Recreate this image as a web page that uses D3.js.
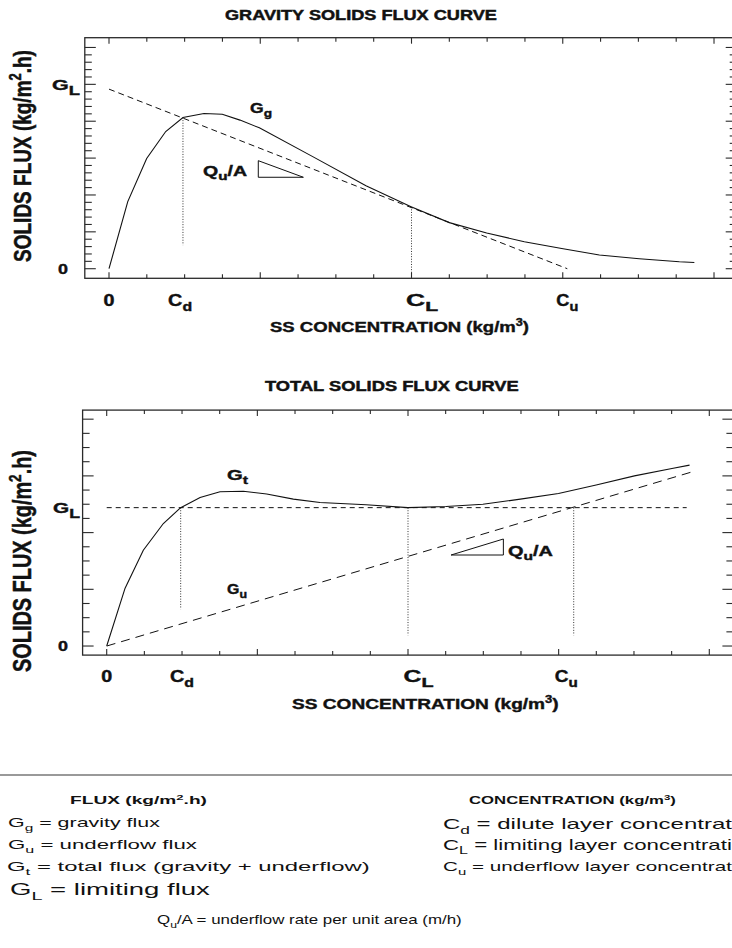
<!DOCTYPE html>
<html><head><meta charset="utf-8">
<script src="https://cdn.jsdelivr.net/npm/d3@7"></script>
<style>
html,body{margin:0;padding:0;background:#fff;overflow:hidden}
svg{display:block;background:#fff}
text{font-family:"Liberation Sans",Arial,Helvetica,sans-serif;fill:#111}
</style></head>
<body><svg id="chart" width="732" height="948"></svg>
<script>
// ---------------- DATA ----------------
// Top panel: gravity solids flux curve (conc in major-tick units, flux in major-tick units)
const gravityConc = [0, 0.124, 0.249, 0.375, 0.489, 0.628, 0.749, 0.866, 0.994, 1.347, 1.699, 1.997, 2.25, 2.497, 2.746, 2.993, 3.242, 3.506, 3.771, 3.87];
const gravityFlux = [0, 1.82, 2.99, 3.72, 4.10, 4.21, 4.19, 4.03, 3.82, 3.04, 2.25, 1.68, 1.25, 0.97, 0.73, 0.55, 0.37, 0.27, 0.19, 0.17];
const tangentConc = [0, 3.03];
const tangentFlux = [4.87, 0];
const topDropConc = [0.489, 2.0];
const topDropFrom = [4.10, 1.68];
const topDropTo = [0.64, -0.26];
const topTriConc = [0.987, 0.987, 1.285];
const topTriFlux = [2.93, 2.48, 2.48];
const topXLabelVals = [0, 0.47, 2.07, 3.03];
const topXLabels = ["0", "C|d", "C|L", "C|u"];
const topYLabelVals = [0, 5];
const topYLabels = ["0", "G|L"];

// Bottom panel: total solids flux curve
const totalConc = [0, 0.122, 0.243, 0.376, 0.491, 0.62, 0.752, 0.907, 1.062, 1.239, 1.416, 1.722, 1.999, 2.253, 2.497, 2.746, 2.999, 3.249, 3.503, 3.752, 3.869];
const totalFlux = [0, 1.02, 1.69, 2.16, 2.44, 2.62, 2.72, 2.73, 2.68, 2.59, 2.53, 2.49, 2.44, 2.46, 2.50, 2.59, 2.69, 2.84, 3.00, 3.13, 3.19];
const underflowConc = [0, 3.91];
const underflowFlux = [0, 3.09];
const limitingConc = [0, 3.85];
const limitingFlux = 2.44;
const botDropConc = [0.491, 2.0, 3.1];
const botDropTo = [0.65, 0.19, 0.19];
const botTriConc = [2.286, 2.633, 2.633];
const botTriFlux = [1.605, 1.605, 1.887];
const botXLabelVals = [0, 0.5, 2.07, 3.05];
const botXLabels = ["0", "C|d", "C|L", "C|u"];
const botYLabelVals = [0, 2.44];
const botYLabels = ["0", "G|L"];

// ---------------- helpers ----------------
const svg = d3.select("#chart");
svg.append("rect").attr("width", 732).attr("height", 948).attr("fill", "#fff");

// parts: [text, kind] kind: n, sub, sup, x (extra appended after fitting)
function rich(parent, parts, o) {
  const t = parent.append("text")
    .attr("font-size", o.size)
    .attr("font-weight", o.bold ? "bold" : "normal")
    .attr("text-anchor", o.rotate ? "middle" : "start");
  if (o.stroke) t.style("stroke", "#111").style("stroke-width", o.stroke);
  let shift = 0;
  const add = ([s, k]) => {
    const ts = t.append("tspan").text(s);
    let target = 0;
    if (k === "sub") { target = (o.subDy || 0.3) * o.size; ts.attr("font-size", (o.subScale || 72) + "%"); }
    else if (k === "sup") { target = -0.4 * o.size; ts.attr("font-size", "68%"); }
    ts.attr("dy", target - shift); shift = target;
  };
  parts.filter(p => p[1] !== "x").forEach(add);
  let w = t.node().getComputedTextLength();
  if (o.rotate) {
    const fs = o.size * o.length / w;
    t.attr("font-size", fs);
    t.selectAll("tspan").each(function () {
      const d = +this.getAttribute("dy"); this.setAttribute("dy", d * fs / o.size);
    });
    const sx = o.cap / (0.716 * fs);
    t.attr("transform", `translate(${o.x},${o.y}) scale(${sx},1) rotate(-90)`);
    return t;
  }
  const sx = o.width / w;
  const W = o.width;
  const x0 = o.anchor === "middle" ? o.x - W / 2 : o.anchor === "end" ? o.x - W : o.x;
  t.attr("transform", `translate(${x0},${o.y}) scale(${sx},1)`);
  parts.filter(p => p[1] === "x").forEach(p => add([p[0], "n"]));
  return t;
}
function parseLabel(s) {
  const [a, b] = s.split("|");
  return b ? [[a, "n"], [b, "sub"]] : [[a, "n"]];
}

function panel(cfg) {
  const g = svg.append("g");
  const x = d3.scaleLinear().domain(cfg.xDomain).range(cfg.xRange);
  const y = d3.scaleLinear().domain(cfg.yDomain).range(cfg.yRange);
  const [x0, x1] = cfg.xRange, [y0, y1] = cfg.yRange;
  const stroke = "#2a2a2a";
  g.append("rect").attr("x", x0).attr("y", y1).attr("width", x1 - x0).attr("height", y0 - y1)
    .attr("fill", "none").attr("stroke", stroke).attr("stroke-width", 1.3);
  const xt = d3.range(0, 4.0001, 0.25);
  xt.forEach(v => {
    const major = Math.abs(v - Math.round(v)) < 1e-6;
    const L = major ? 6 : 4;
    g.append("line").attr("x1", x(v)).attr("x2", x(v)).attr("y1", y0).attr("y2", y0 - L).attr("stroke", stroke).attr("stroke-width", 1.1);
    g.append("line").attr("x1", x(v)).attr("x2", x(v)).attr("y1", y1).attr("y2", y1 + L).attr("stroke", stroke).attr("stroke-width", 1.1);
  });
  const yt = d3.range(0, cfg.yMaxTick + 1e-6, cfg.yMinor);
  yt.forEach(v => {
    const major = Math.abs(v - Math.round(v)) < 1e-6;
    const L = major ? 11 : 7;
    g.append("line").attr("x1", x0).attr("x2", x0 + L).attr("y1", y(v)).attr("y2", y(v)).attr("stroke", stroke).attr("stroke-width", 1.1);
    g.append("line").attr("x1", x1).attr("x2", x1 - L).attr("y1", y(v)).attr("y2", y(v)).attr("stroke", stroke).attr("stroke-width", 1.1);
  });
  return { g, x, y };
}

const line = (x, y) => d3.line().x(d => x(d[0])).y(d => y(d[1]));

// ---------------- TOP PANEL ----------------
{
  const { g, x, y } = panel({ xDomain: [-0.16, 4.15], xRange: [84.8, 736.7], yDomain: [-0.26, 6.265], yRange: [278.3, 37.7], yMaxTick: 6, yMinor: 0.2 });
  topDropConc.forEach((c, i) => {
    g.append("path").attr("d", line(x, y)([[c, topDropFrom[i]], [c, topDropTo[i]]]))
      .attr("stroke", "#333").attr("stroke-width", 1).attr("stroke-dasharray", "1,1.6").attr("fill", "none");
  });
  g.append("path").attr("d", line(x, y)(tangentConc.map((c, i) => [c, tangentFlux[i]])))
    .attr("stroke", "#111").attr("stroke-width", 1).attr("stroke-dasharray", "6,4").attr("fill", "none");
  g.append("path").attr("d", line(x, y)(gravityConc.map((c, i) => [c, gravityFlux[i]])))
    .attr("stroke", "#111").attr("stroke-width", 1.1).attr("fill", "none");
  g.append("path").attr("d", line(x, y)(topTriConc.map((c, i) => [c, topTriFlux[i]])) + "Z")
    .attr("stroke", "#111").attr("stroke-width", 1).attr("fill", "none");

  rich(svg, [["GRAVITY SOLIDS FLUX CURVE", "n"]], { x: 225, y: 20, size: 14, bold: true, width: 272, stroke: 0.45 });
  rich(svg, [["SOLIDS FLUX (kg/m", "n"], ["2", "sup"], [".h)", "n"]], { x: 31, y: 156, size: 16, bold: true, rotate: true, length: 212, cap: 17.5, stroke: 0.4 });
  rich(svg, [["SS CONCENTRATION (kg/m", "n"], ["3", "sup"], [")", "n"]], { x: 270, y: 332, size: 15, bold: true, width: 259, stroke: 0.4 });
  topYLabels.forEach((l, i) => {
    const parts = parseLabel(l);
    if (parts.length === 1) rich(svg, parts, { x: 68, y: y(topYLabelVals[i]) + 5.5, size: 15, bold: true, width: 10, anchor: "end", stroke: 0.4 });
    else rich(svg, parts, { x: 80, y: y(topYLabelVals[i]) + 5.5, size: 15, bold: true, width: 28, anchor: "end", subScale: 85, subDy: 0.33, stroke: 0.4 });
  });
  const topXW = [11, 24, 32, 22], topXS = [16, 16, 17, 16];
  topXLabels.forEach((l, i) => {
    rich(svg, parseLabel(l), { x: x(topXLabelVals[i]), y: 306, size: topXS[i], bold: true, width: topXW[i], anchor: "middle", subScale: 80, subDy: 0.3, stroke: 0.4 });
  });
  rich(svg, [["G", "n"], ["g", "sub"]], { x: 250, y: 113, size: 14, bold: true, width: 22, subScale: 78, subDy: 0.3, stroke: 0.4 });
  rich(svg, [["Q", "n"], ["u", "sub"], ["/A", "n"]], { x: 203, y: 176, size: 14, bold: true, width: 44, subScale: 78, subDy: 0.3, stroke: 0.4 });
}

// ---------------- BOTTOM PANEL ----------------
{
  const { g, x, y } = panel({ xDomain: [-0.16, 4.16], xRange: [82.6, 733.4], yDomain: [-0.16, 4.16], yRange: [655.1, 410.1], yMaxTick: 4, yMinor: 0.25 });
  botDropConc.forEach((c, i) => {
    g.append("path").attr("d", line(x, y)([[c, limitingFlux], [c, botDropTo[i]]]))
      .attr("stroke", "#333").attr("stroke-width", 1).attr("stroke-dasharray", "1,1.6").attr("fill", "none");
  });
  g.append("path").attr("d", line(x, y)(limitingConc.map(c => [c, limitingFlux])))
    .attr("stroke", "#111").attr("stroke-width", 1).attr("stroke-dasharray", "5,4").attr("fill", "none");
  g.append("path").attr("d", line(x, y)(underflowConc.map((c, i) => [c, underflowFlux[i]])))
    .attr("stroke", "#111").attr("stroke-width", 1).attr("stroke-dasharray", "9,6").attr("fill", "none");
  g.append("path").attr("d", line(x, y)(totalConc.map((c, i) => [c, totalFlux[i]])))
    .attr("stroke", "#111").attr("stroke-width", 1.1).attr("fill", "none");
  g.append("path").attr("d", line(x, y)(botTriConc.map((c, i) => [c, botTriFlux[i]])) + "Z")
    .attr("stroke", "#111").attr("stroke-width", 1).attr("fill", "none");

  rich(svg, [["TOTAL SOLIDS FLUX CURVE", "n"]], { x: 265, y: 391, size: 14, bold: true, width: 254, stroke: 0.45 });
  rich(svg, [["SOLIDS FLUX (kg/m", "n"], ["2", "sup"], [".h)", "n"]], { x: 31, y: 561, size: 16, bold: true, rotate: true, length: 222, cap: 18, stroke: 0.4 });
  rich(svg, [["SS CONCENTRATION (kg/m", "n"], ["3", "sup"], [")", "n"]], { x: 292, y: 709, size: 15, bold: true, width: 267, stroke: 0.4 });
  botYLabels.forEach((l, i) => {
    const parts = parseLabel(l);
    if (parts.length === 1) rich(svg, parts, { x: 68, y: y(botYLabelVals[i]) + 4.5, size: 14, bold: true, width: 10, anchor: "end", stroke: 0.4 });
    else rich(svg, parts, { x: 80, y: y(botYLabelVals[i]) + 5.5, size: 15, bold: true, width: 27, anchor: "end", subScale: 85, subDy: 0.3, stroke: 0.4 });
  });
  const botXW = [11, 24, 30, 23], botXS = [16, 16, 17, 16];
  botXLabels.forEach((l, i) => {
    rich(svg, parseLabel(l), { x: x(botXLabelVals[i]), y: 682, size: botXS[i], bold: true, width: botXW[i], anchor: "middle", subScale: 80, subDy: 0.3, stroke: 0.4 });
  });
  rich(svg, [["G", "n"], ["t", "sub"]], { x: 227, y: 480, size: 14, bold: true, width: 21, subScale: 78, subDy: 0.3, stroke: 0.4 });
  rich(svg, [["G", "n"], ["u", "sub"]], { x: 227, y: 594, size: 14, bold: true, width: 20, subScale: 78, subDy: 0.3, stroke: 0.4 });
  rich(svg, [["Q", "n"], ["u", "sub"], ["/A", "n"]], { x: 508, y: 556, size: 14, bold: true, width: 45, subScale: 78, subDy: 0.3, stroke: 0.4 });
}

// ---------------- LEGEND ----------------
svg.append("line").attr("x1", 0).attr("x2", 732).attr("y1", 775).attr("y2", 775).attr("stroke", "#777").attr("stroke-width", 1.5);
rich(svg, [["FLUX (kg/m", "n"], ["2", "sup"], [".h)", "n"]], { x: 70, y: 804, size: 11, bold: true, width: 137 });
rich(svg, [["CONCENTRATION (kg/m", "n"], ["3", "sup"], [")", "n"]], { x: 469, y: 804, size: 11, bold: true, width: 207 });
rich(svg, [["G", "n"], ["g", "sub"], [" = gravity flux", "n"]], { x: 8, y: 827, size: 12, width: 152 });
rich(svg, [["G", "n"], ["u", "sub"], [" = underflow flux", "n"]], { x: 8, y: 849, size: 12, width: 189 });
rich(svg, [["G", "n"], ["t", "sub"], [" = total flux (gravity + underflow)", "n"]], { x: 7, y: 871, size: 12, width: 363 });
rich(svg, [["G", "n"], ["L", "sub"], [" = limiting flux", "n"]], { x: 10, y: 895, size: 16, width: 200 });
rich(svg, [["Q", "n"], ["u", "sub"], ["/A = underflow rate per unit area (m/h)", "n"]], { x: 157, y: 924, size: 12, width: 305 });
rich(svg, [["C", "n"], ["d", "sub"], [" = dilute layer concentrat", "n"], ["ion", "x"]], { x: 443, y: 829, size: 15, width: 289 });
rich(svg, [["C", "n"], ["L", "sub"], [" = limiting layer concentrati", "n"], ["on", "x"]], { x: 443, y: 850, size: 14, width: 289 });
rich(svg, [["C", "n"], ["u", "sub"], [" = underflow layer concentrat", "n"], ["ion", "x"]], { x: 443, y: 871, size: 13, width: 289 });
</script>
</body></html>
